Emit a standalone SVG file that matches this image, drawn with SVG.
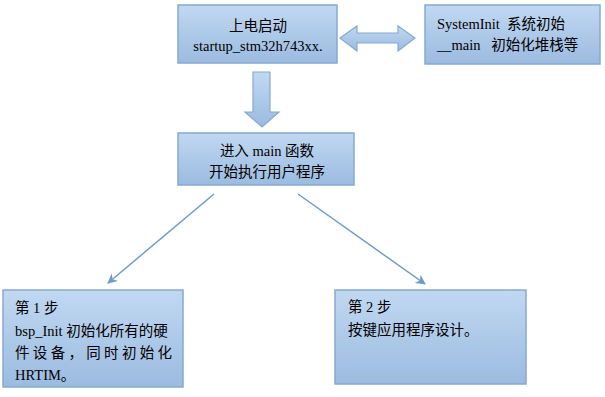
<svg xmlns="http://www.w3.org/2000/svg" width="605" height="397" viewBox="0 0 605 397">
<defs>
<linearGradient id="g" x1="0" y1="0" x2="0" y2="1">
<stop offset="0" stop-color="#c1d8f1"/>
<stop offset="1" stop-color="#9bbbe0"/>
</linearGradient>
<marker id="ah" markerWidth="10" markerHeight="10" refX="9" refY="5" orient="auto" markerUnits="userSpaceOnUse">
<path d="M0,0 L10,5 L0,10 L3,5 Z" fill="#6f9bc9"/>
</marker>
<style>
.box{fill:url(#g);stroke:#86a9d2;stroke-width:1.5}
.arr{fill:url(#g);stroke:#86a9d2;stroke-width:1.2}
.t{font-family:"Liberation Serif","Noto Sans CJK SC",serif;font-size:14.5px;fill:#000}
.c{text-anchor:middle}
.ln{stroke:#6f9bc9;stroke-width:1.5;fill:none;marker-end:url(#ah)}
</style>
</defs>
<rect width="605" height="397" fill="#ffffff"/>
<g id="node-start">
<rect class="box" x="178" y="5" width="159" height="58"/>
<text class="t c" x="258" y="31">上电启动</text>
<text class="t c" x="258" y="51">startup_stm32h743xx.</text>
</g>
<g id="node-sysinit">
<rect class="box" x="425" y="5" width="175" height="59"/>
<text class="t" x="437" y="29" xml:space="preserve">SystemInit  系统初始</text>
<text class="t" x="437" y="50" xml:space="preserve">__main   初始化堆栈等</text>
</g>
<g id="node-main">
<rect class="box" x="178" y="133" width="176" height="52"/>
<text class="t c" x="267" y="156">进入 main 函数</text>
<text class="t c" x="267" y="177">开始执行用户程序</text>
</g>
<g id="node-step1">
<rect class="box" x="3" y="290" width="180" height="97"/>
<text class="t" x="15" y="313">第 1 步</text>
<text class="t" x="15" y="336">bsp_Init 初始化所有的硬</text>
<text class="t" x="15" y="358" textLength="157" lengthAdjust="spacing">件设备，同时初始化</text>
<text class="t" x="15" y="380">HRTIM。</text>
</g>
<g id="node-step2">
<rect class="box" x="335" y="290" width="191" height="94"/>
<text class="t" x="348" y="312">第 2 步</text>
<text class="t" x="348" y="335">按键应用程序设计。</text>
</g>
<g id="connectors">
<path class="arr" d="M340,38 L357,26 L357,33 L398,33 L398,26 L415,38 L398,51 L398,43 L357,43 L357,51 Z"/>
<path class="arr" d="M253,72 L270,72 L270,112 L279,112 L262,127 L245,112 L253,112 Z"/>
<line class="ln" x1="214" y1="194" x2="108" y2="283"/>
<line class="ln" x1="298" y1="194" x2="425" y2="284"/>
</g>
</svg>
